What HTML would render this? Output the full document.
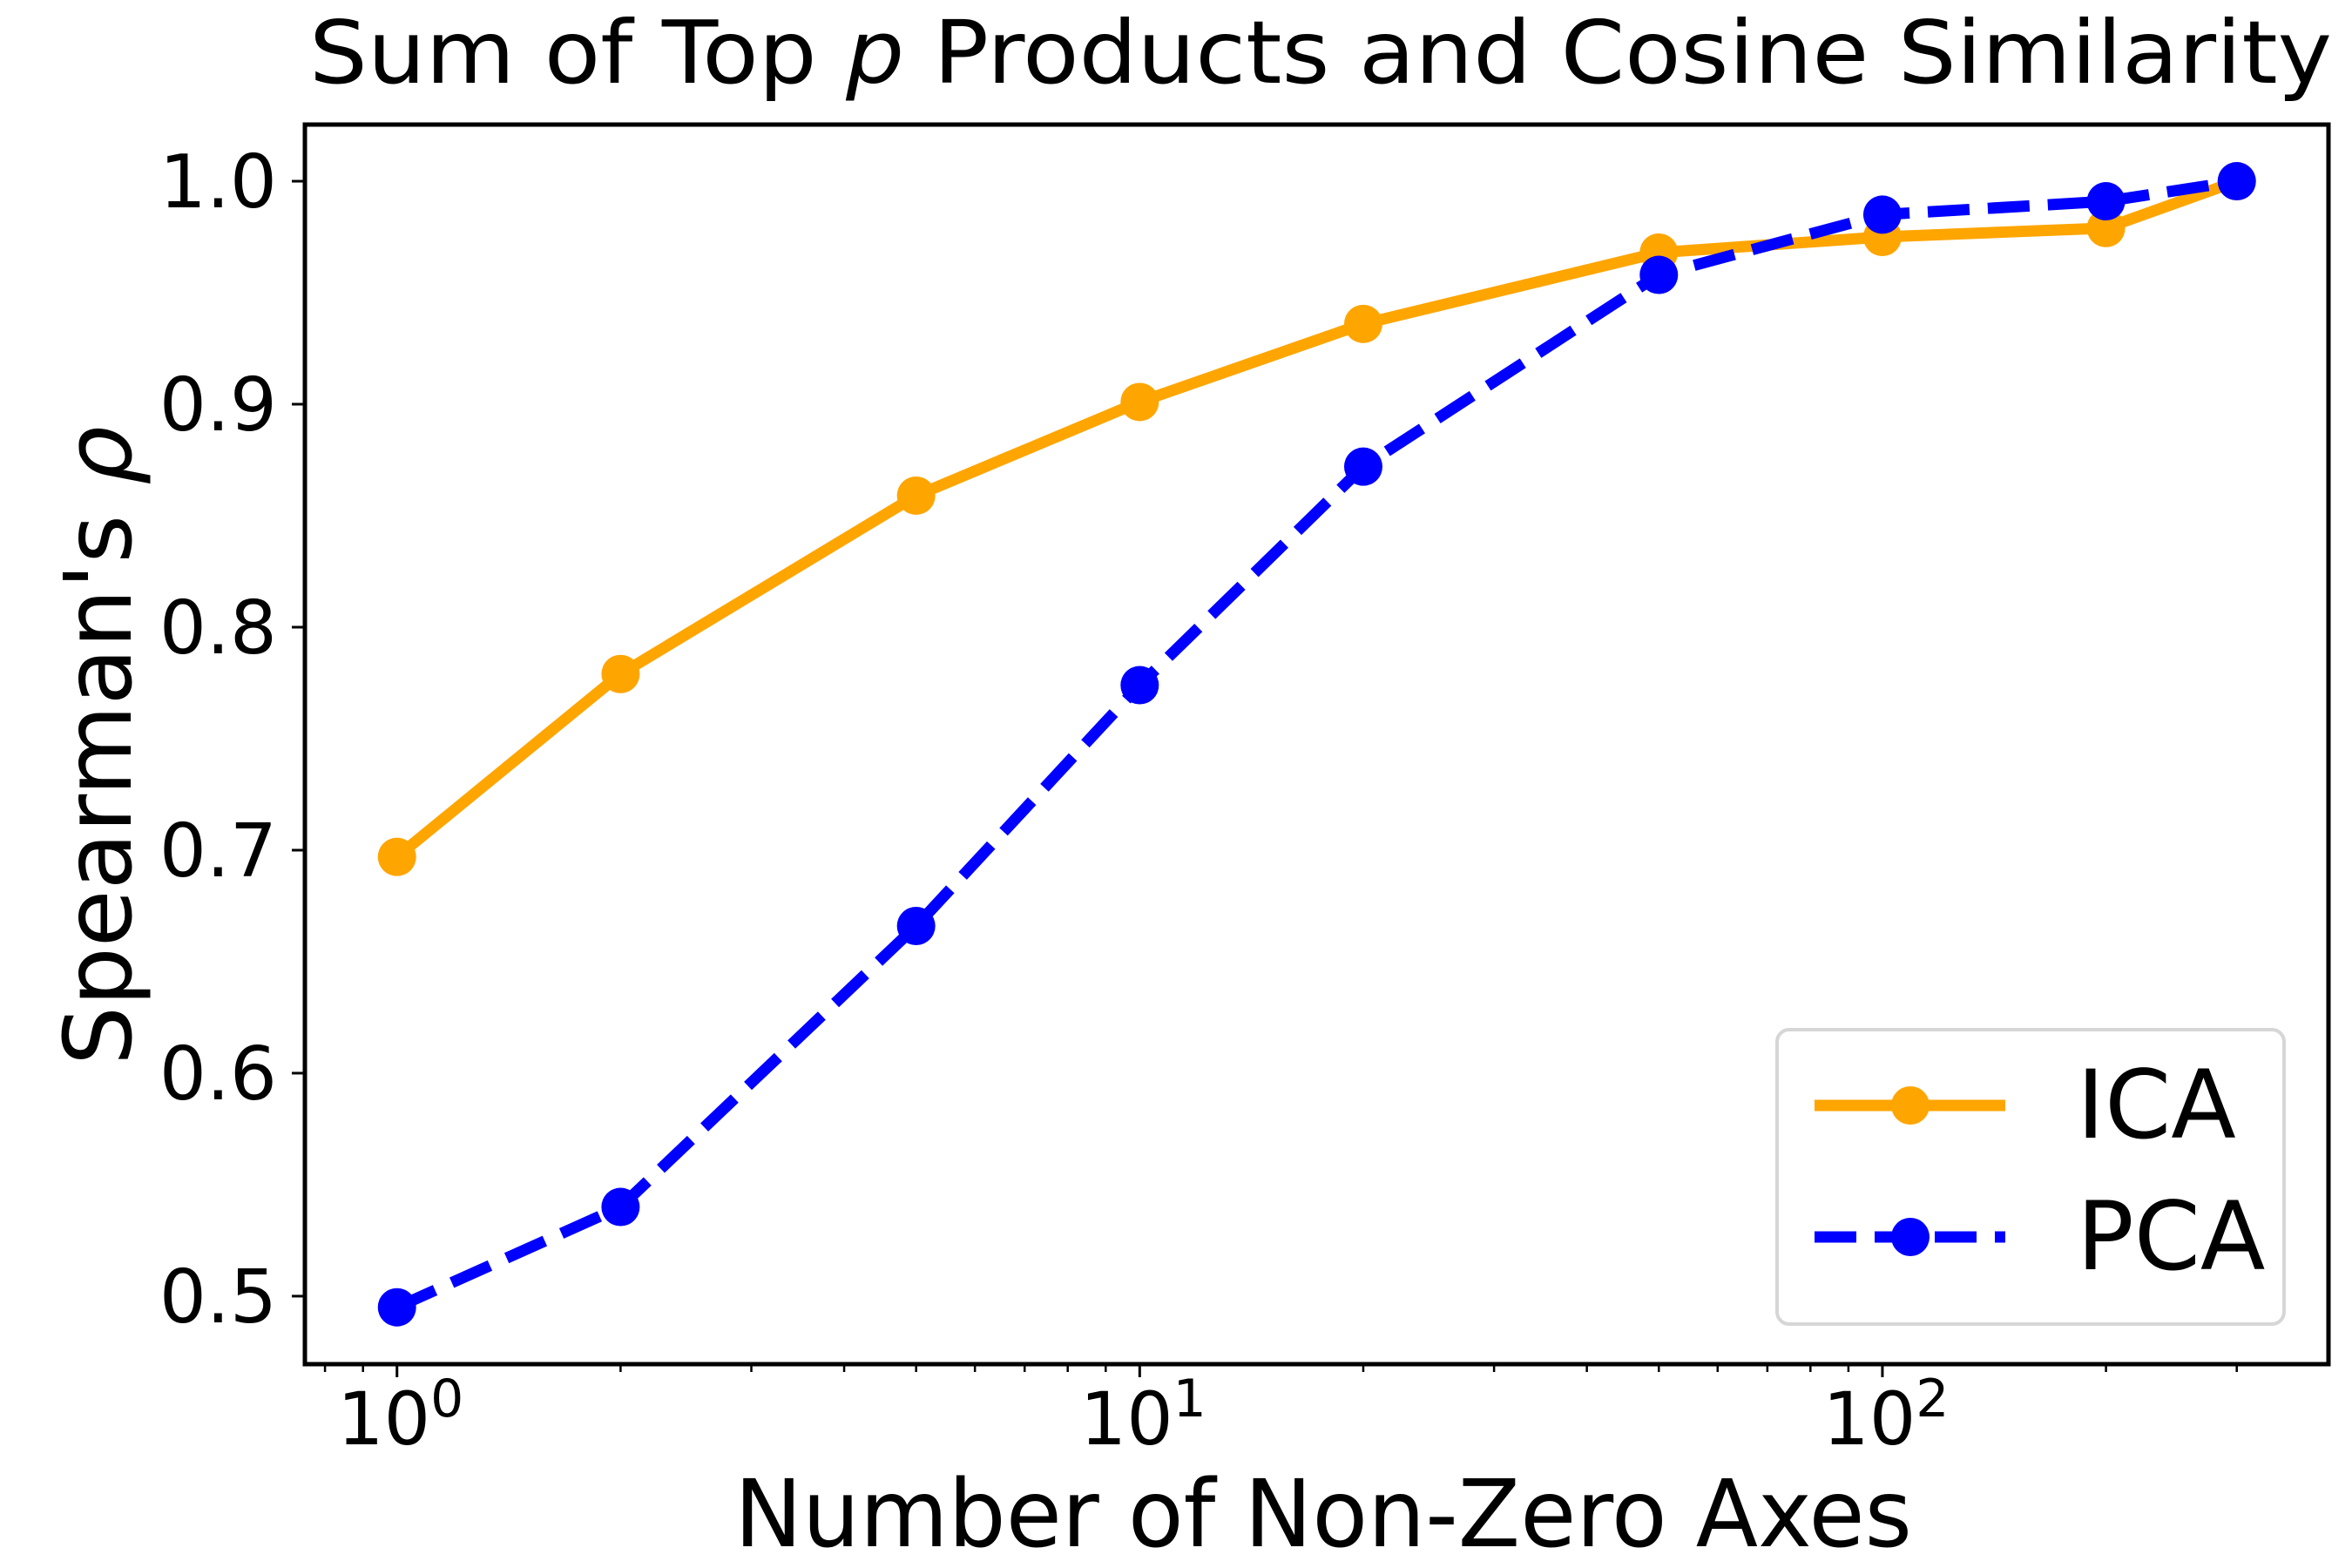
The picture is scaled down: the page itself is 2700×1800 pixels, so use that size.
<!DOCTYPE html>
<html><head><meta charset="utf-8"><style>html,body{margin:0;padding:0;background:#fff}svg{display:block}</style></head>
<body>
<svg id="chart" width="2700" height="1800" viewBox="0 0 2700 1800" xmlns="http://www.w3.org/2000/svg" font-family="'DejaVu Sans','Liberation Sans',sans-serif">
<rect width="2700" height="1800" fill="#fff"/>
<text x="1516" y="95" font-size="100" text-anchor="middle" textLength="2322" lengthAdjust="spacingAndGlyphs">Sum of Top <tspan font-style="italic">p</tspan> Products and Cosine Similarity</text>
<g id="plot"></g>
<text x="1519" y="1775" font-size="107" text-anchor="middle" textLength="1352" lengthAdjust="spacingAndGlyphs">Number of Non-Zero Axes</text>
<text transform="translate(150,856) rotate(-90)" font-size="107" text-anchor="middle">Spearman's <tspan font-style="italic">ρ</tspan></text>
<g>
<rect x="2040" y="1182" width="582" height="338" rx="14" fill="#fff" stroke="#d6d6d6" stroke-width="4"/>
<g>
<line x1="2083" y1="1269" x2="2302" y2="1269" stroke="orange" stroke-width="13"/>
<circle cx="2193" cy="1269" r="22" fill="orange"/>
<text x="2384" y="1306" font-size="109">ICA</text></g>
<g>
<line x1="2083" y1="1420" x2="2302" y2="1420" stroke="blue" stroke-width="13" stroke-dasharray="48,21"/>
<circle cx="2193" cy="1420" r="22" fill="blue"/>
<text x="2384" y="1457" font-size="109">PCA</text></g>
</g>
</svg>
<script>
const xValues = [1, 2, 5, 10, 20, 50, 100, 200, 300];
const icaValues = [0.697, 0.779, 0.859, 0.901, 0.936, 0.968, 0.975, 0.979, 1.0];
const pcaValues = [0.495, 0.540, 0.666, 0.774, 0.872, 0.958, 0.985, 0.991, 1.0];
const yTickValues = [0.5, 0.6, 0.7, 0.8, 0.9, 1.0];
const yTickLabels = ["0.5", "0.6", "0.7", "0.8", "0.9", "1.0"];
const xMajorExps = [0, 1, 2];

const L = 350, R = 2673, T = 143, B = 1566;
const xMinLog = -0.124, xMaxLog = 2.6006, yMin = 0.4695, yMax = 1.0254;
function xs(v){ return L + (Math.log10(v) - xMinLog) / (xMaxLog - xMinLog) * (R - L); }
function ys(v){ return B - (v - yMin) / (yMax - yMin) * (B - T); }

const NS = "http://www.w3.org/2000/svg";
const g = document.getElementById('plot');
function mk(tag, attrs, parent){ const e = document.createElementNS(NS, tag); for (const k in attrs) e.setAttribute(k, attrs[k]); (parent||g).appendChild(e); return e; }

for (let i = 0; i < yTickValues.length; i++) {
  const y = ys(yTickValues[i]);
  const t = mk('line', {x1: L - 15, x2: L, y1: y, y2: y, stroke: '#000', 'stroke-width': 3});
  
  
  const lb = mk('text', {x: 318, y: y + 30, 'font-size': 85, 'text-anchor': 'end'});
  lb.textContent = yTickLabels[i];
  
  
}
for (let d = -1; d <= 2; d++) {
  for (let m = 2; m <= 9; m++) {
    const v = m * Math.pow(10, d);
    const lv = Math.log10(v);
    if (lv < xMinLog || lv > xMaxLog - 0.002) continue;
    const x = xs(v);
    const t = mk('line', {x1: x, x2: x, y1: B, y2: B + 9, stroke: '#000', 'stroke-width': 2.5});
    
    
  }
}
for (const e of xMajorExps) {
  const x = xs(Math.pow(10, e));
  const t = mk('line', {x1: x, x2: x, y1: B, y2: B + 15, stroke: '#000', 'stroke-width': 3});
  
  
  const lb = mk('text', {x: x + 4, y: 1658, 'font-size': 84, 'text-anchor': 'middle'});
  
  
  lb.appendChild(document.createTextNode('10'));
  const sup = document.createElementNS(NS, 'tspan');
  sup.setAttribute('font-size', 60);
  sup.setAttribute('dy', -32);
  sup.textContent = String(e);
  lb.appendChild(sup);
}

function series(vals, color, dash, name) {
  const sg = mk('g', {});
  
  
  const pts = xValues.map((x, i) => xs(x).toFixed(1) + ',' + ys(vals[i]).toFixed(1)).join(' ');
  const pl = mk('polyline', {points: pts, fill: 'none', stroke: color, 'stroke-width': 13, 'stroke-linejoin': 'round'}, sg);
  if (dash) pl.setAttribute('stroke-dasharray', dash);
  
  
  xValues.forEach((x, i) => {
    const c = mk('circle', {cx: xs(x), cy: ys(vals[i]), r: 22, fill: color}, sg);
    
    
  });
}
series(icaValues, 'orange', null, 'ica-series');
series(pcaValues, 'blue', '48,21', 'pca-series');

const fr = mk('rect', {x: L, y: T, width: R - L, height: B - T, fill: 'none', stroke: '#000', 'stroke-width': 5});


</script>
</body></html>
